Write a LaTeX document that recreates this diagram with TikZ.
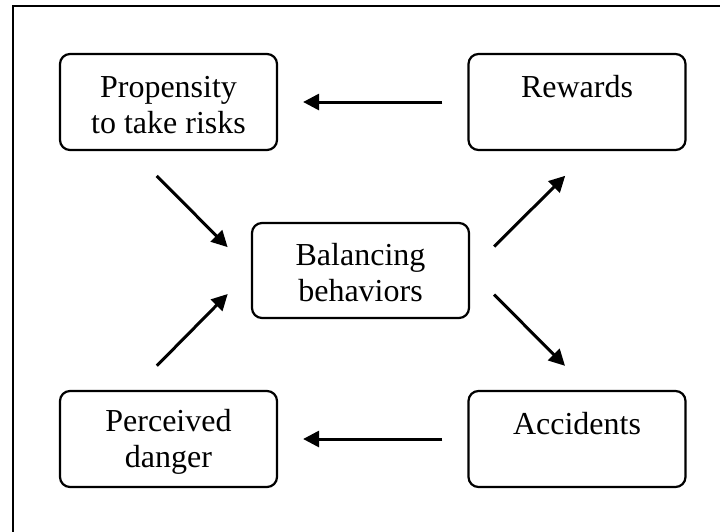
\documentclass[tikz,border=0pt]{standalone}
\usepackage{fontspec}
\setmainfont{Liberation Serif}
\usetikzlibrary{arrows.meta}
\newcommand\mystrut{\rule[-2pt]{0pt}{30pt}}
\begin{document}
\begin{tikzpicture}[x=1pt,y=-1pt,
  boxnode/.style={draw, line width=2.2pt, rounded corners=10pt, minimum width=217pt, minimum height=96pt, inner sep=0pt, align=center, font=\fontsize{32}{36}\selectfont},
  arr/.style={line width=3pt, -{Triangle[length=16pt,width=16pt]}}]
\clip (0,0) rectangle (720,531);
\draw[line width=2.4pt] (13,545) -- (13,6) -- (735,6);
\node[boxnode] (prop) at (168.5,102) {\mystrut Propensity\\\mystrut to take risks};
\node[boxnode] (rew) at (577,102) {\mystrut Rewards\\\mystrut};
\node[boxnode, minimum height=95pt] (bal) at (360.5,270.5) {\mystrut Balancing\\\mystrut behaviors};
\node[boxnode] (perc) at (168.5,439) {\mystrut Perceived\\\mystrut danger};
\node[boxnode] (acc) at (577,439) {\mystrut Accidents\\\mystrut};
\draw[arr, shorten <=25pt, shorten >=25pt] (rew.west) -- (prop.east);
\draw[arr, shorten <=25pt, shorten >=25pt] (acc.west) -- (perc.east);
\draw[arr, shorten <=35pt, shorten >=33pt] ([xshift=-36.5pt]prop.south) -- (bal.west);
\draw[arr, shorten <=34pt, shorten >=35pt] (bal.east) -- ([xshift=13pt]rew.south);
\draw[arr, shorten <=34pt, shorten >=33pt] ([xshift=-35.5pt]perc.north) -- (bal.west);
\draw[arr, shorten <=34pt, shorten >=34pt] (bal.east) -- ([xshift=12pt]acc.north);
\end{tikzpicture}
\end{document}
